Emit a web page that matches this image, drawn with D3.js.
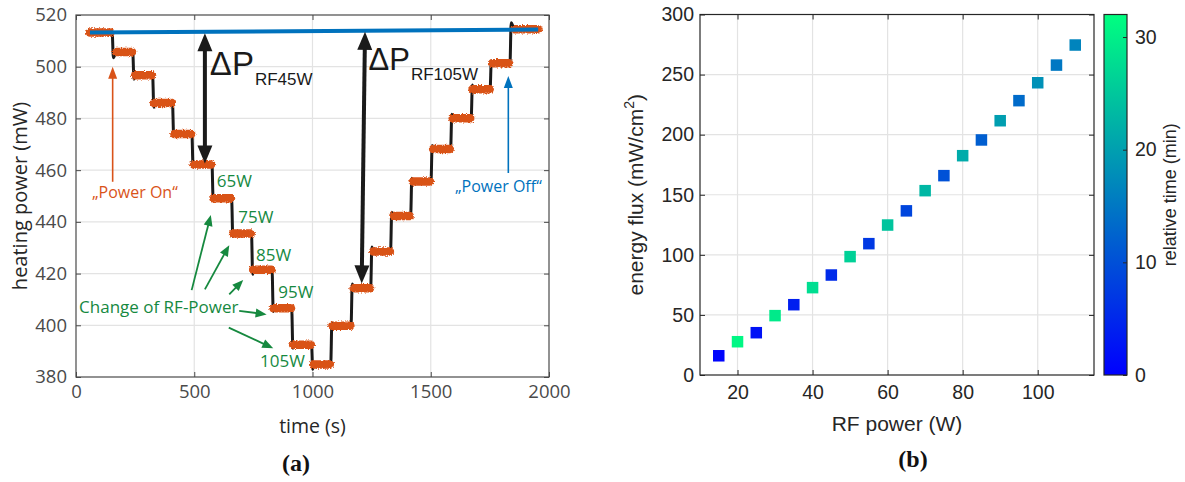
<!DOCTYPE html>
<html>
<head>
<meta charset="utf-8">
<script src="https://cdn.jsdelivr.net/npm/d3@7/dist/d3.min.js"></script>
<style>
    body { margin: 0; background: #fff; }
    svg { display: block; }
</style>
</head>
<body>
<svg id="fig" width="1185" height="482"></svg>
<script>
// (a) heating power trace: plateaus (s, mW)
let plateauStart = [59, 170, 250, 330, 416, 498, 581, 664, 749, 835, 918, 1003, 1084, 1174, 1257, 1342, 1425, 1510, 1593, 1677, 1760, 1854];
let plateauEnd = [146, 237, 321, 405, 487, 571, 655, 739, 826, 909, 993, 1073, 1160, 1243, 1327, 1411, 1497, 1580, 1667, 1749, 1831, 1955];
let plateauLevel = [513.2, 505.7, 496.7, 486.0, 474.0, 462.2, 449.1, 435.5, 421.5, 406.6, 392.5, 384.8, 399.8, 414.3, 428.5, 442.3, 455.6, 468.2, 480.1, 491.3, 501.3, 514.5];

// switching moments and the over/undershoot reached right after
let stepTime = [153, 240, 324, 408, 490, 575, 658, 742, 829, 912, 996, 1077, 1163, 1246, 1330, 1415, 1501, 1584, 1671, 1751, 1835];
let stepPeak = [503.5, 495.2, 484.3, 473.2, 461.3, 448.2, 434.3, 419.7, 405.3, 391.1, 383.0, 401.0, 416.0, 430.3, 443.7, 456.9, 469.5, 481.6, 492.9, 502.2, 517.0];

// baseline between power on and power off
let baseTime = [59, 1954];
let basePower = [513.2, 514.4];

// (b) energy flux vs rf power, colored by relative time
let rfPower = [15, 20, 25, 30, 35, 40, 45, 50, 55, 60, 65, 70, 75, 80, 85, 90, 95, 100, 105, 110];
let energyFlux = [16.0, 27.7, 35.2, 49.4, 58.5, 72.7, 83.2, 98.5, 109.3, 124.8, 136.6, 153.4, 165.9, 182.5, 195.6, 211.6, 228.3, 243.2, 257.9, 274.6];
let relTime = [0.6, 31.0, 2.2, 29.4, 3.8, 27.8, 5.4, 26.2, 7.0, 24.6, 8.6, 23.0, 10.2, 21.4, 11.8, 19.8, 13.4, 18.2, 15.0, 16.6];

let timeTicks = [0, 500, 1000, 1500, 2000];
let heatTicks = [380, 400, 420, 440, 460, 480, 500, 520];
let rfTicks = [20, 40, 60, 80, 100];
let fluxTicks = [0, 50, 100, 150, 200, 250, 300];
let cbTicks = [0, 10, 20, 30];

const ORANGE = "#d95319";
const BLUE = "#0072bd";
const GREEN = "#16893f";
const GRID = "#e3e3e3";

let svg = d3.select("#fig");

let defs = svg.append("defs");

// rough edge for the noisy plateaus
let rough = defs.append("filter").attr("id", "rough")
    .attr("x", "-10%").attr("y", "-50%").attr("width", "120%").attr("height", "200%");
rough.append("feTurbulence").attr("type", "fractalNoise").attr("baseFrequency", "0.8").attr("numOctaves", 2).attr("seed", 3).attr("result", "n");
rough.append("feDisplacementMap").attr("in", "SourceGraphic").attr("in2", "n").attr("scale", 4)
    .attr("xChannelSelector", "R").attr("yChannelSelector", "G");

function arrowHead(g, x1, y1, x2, y2, len, half, color) {
    let a = Math.atan2(y2 - y1, x2 - x1);
    let bx = x2 - len * Math.cos(a), by = y2 - len * Math.sin(a);
    let px = -Math.sin(a) * half, py = Math.cos(a) * half;
    g.append("path")
        .attr("d", "M" + x2 + "," + y2 + "L" + (bx + px) + "," + (by + py) + "L" + (bx - px) + "," + (by - py) + "Z")
        .attr("fill", color);
}

// arrow drawn in pixel space, head at the second point
function arrow(g, x1, y1, x2, y2, opt) {
    let a = Math.atan2(y2 - y1, x2 - x1);
    g.append("line")
        .attr("x1", x1).attr("y1", y1)
        .attr("x2", x2 - opt.len * 0.8 * Math.cos(a)).attr("y2", y2 - opt.len * 0.8 * Math.sin(a))
        .attr("stroke", opt.color).attr("stroke-width", opt.width);
    arrowHead(g, x1, y1, x2, y2, opt.len, opt.half, opt.color);
}

/* ---------------- (a) ---------------- */
let pa = { left: 76, right: 549, top: 15, bottom: 377 };

let x = d3.scaleLinear().domain([0, 2000]).range([pa.left, pa.right]);
let y = d3.scaleLinear().domain([380, 520]).range([pa.bottom, pa.top]);

let ga = svg.append("g").attr("font-family", "'Open Sans', sans-serif");

// grid
ga.append("g").selectAll("line").data(timeTicks.slice(1, -1)).enter().append("line")
    .attr("x1", d => x(d)).attr("x2", d => x(d)).attr("y1", pa.top).attr("y2", pa.bottom)
    .attr("stroke", GRID).attr("stroke-width", 1.2);
ga.append("g").selectAll("line").data(heatTicks.slice(1, -1)).enter().append("line")
    .attr("y1", d => y(d)).attr("y2", d => y(d)).attr("x1", pa.left).attr("x2", pa.right)
    .attr("stroke", GRID).attr("stroke-width", 1.2);

// black trace through plateaus and switching spikes
let tracePts = [];
plateauLevel.forEach((lv, k) => {
    tracePts.push([plateauStart[k], lv]);
    if (k < stepTime.length) {
        tracePts.push([stepTime[k], lv]);
        tracePts.push([stepTime[k] + 5, stepPeak[k]]);
    } else {
        tracePts.push([plateauEnd[k], lv]);
    }
});

let line = d3.line().x(d => x(d[0])).y(d => y(d[1])).curve(d3.curveMonotoneX);

ga.append("path").datum(tracePts)
    .attr("d", line)
    .attr("fill", "none").attr("stroke", "#1a1a1a").attr("stroke-width", 3)
    .attr("stroke-linejoin", "round").attr("stroke-linecap", "round");

// orange noisy plateaus: solid core plus a frayed fringe
function plateaus(g, w) {
    g.selectAll("line").data(plateauLevel).enter().append("line")
        .attr("x1", (d, i) => x(plateauStart[i])).attr("x2", (d, i) => x(plateauEnd[i]))
        .attr("y1", d => y(d)).attr("y2", d => y(d))
        .attr("stroke", ORANGE).attr("stroke-width", w).attr("stroke-linecap", "round");
}
plateaus(ga.append("g"), 6.5);
plateaus(ga.append("g").attr("filter", "url(#rough)"), 8.5);

// blue baseline
ga.append("line")
    .attr("x1", x(baseTime[0])).attr("y1", y(basePower[0]))
    .attr("x2", x(baseTime[1])).attr("y2", y(basePower[1]))
    .attr("stroke", BLUE).attr("stroke-width", 4);

// delta P double arrows
function deltaArrow(t1, p1, t2, p2) {
    let x1 = x(t1), y1 = y(p1), x2 = x(t2), y2 = y(p2);
    let a = Math.atan2(y2 - y1, x2 - x1);
    ga.append("line")
        .attr("x1", x1 + 14 * Math.cos(a)).attr("y1", y1 + 14 * Math.sin(a))
        .attr("x2", x2 - 14 * Math.cos(a)).attr("y2", y2 - 14 * Math.sin(a))
        .attr("stroke", "#1a1a1a").attr("stroke-width", 4);
    arrowHead(ga, x2, y2, x1, y1, 18, 7.5, "#1a1a1a");
    arrowHead(ga, x1, y1, x2, y2, 18, 7.5, "#1a1a1a");
}
deltaArrow(545, 512.9, 545, 462.6);
deltaArrow(1222, 513.5, 1208, 416.2);

function deltaLabel(t, p, sub, size) {
    let tx = ga.append("text").attr("x", x(t)).attr("y", y(p))
        .attr("font-family", "'Liberation Sans', Arial, sans-serif")
        .attr("fill", "#1a1a1a").attr("font-size", size);
    tx.append("tspan").text("ΔP");
    tx.append("tspan").attr("dy", 10).attr("dx", 1).attr("font-size", 17).text(sub);
}
deltaLabel(566, 496.8, "RF45W", 33);
deltaLabel(1237, 498.6, "RF105W", 31);

// power on / off
let annot = ga.append("g").attr("font-size", 16);
arrow(annot, x(155), y(455.5), x(155), y(500.0), { color: ORANGE, width: 1.6, len: 12, half: 4.5 });
annot.append("text").attr("x", x(249)).attr("y", y(449.1)).attr("text-anchor", "middle")
    .attr("fill", ORANGE).text("„Power On“");
arrow(annot, x(1828), y(458.9), x(1828), y(496.4), { color: BLUE, width: 1.6, len: 12, half: 4.5 });
annot.append("text").attr("x", x(1786)).attr("y", y(451.4)).attr("text-anchor", "middle")
    .attr("fill", BLUE).text("„Power Off“");

// rf power change labels
let gg = ga.append("g").attr("fill", GREEN).attr("font-size", 17);
gg.append("text").attr("x", x(595)).attr("y", y(453.3)).text("65W");
gg.append("text").attr("x", x(686)).attr("y", y(439.4)).text("75W");
gg.append("text").attr("x", x(761)).attr("y", y(425.0)).text("85W");
gg.append("text").attr("x", x(855)).attr("y", y(410.4)).text("95W");
gg.append("text").attr("x", x(778)).attr("y", y(383.7)).text("105W");
gg.append("text").attr("x", x(13)).attr("y", y(404.6)).text("Change of RF-Power");

let gopt = { color: GREEN, width: 1.8, len: 11, half: 4.5 };
arrow(gg, x(489), y(413.6), x(570), y(442.7), gopt);
arrow(gg, x(545), y(413.9), x(648), y(431.0), gopt);
arrow(gg, x(648), y(412.0), x(707), y(417.5), gopt);
arrow(gg, x(690), y(405.6), x(806), y(404.2), gopt);
arrow(gg, x(646), y(399.1), x(834), y(391.1), gopt);

// axes (ticks pointing inward, box on)
function styleAxis(g, color) {
    g.select(".domain").remove();
    g.selectAll("line").attr("stroke", color);
    g.selectAll("text").attr("fill", color);
}
let aColor = "#4a4a4a";
ga.append("g").attr("transform", "translate(0," + pa.bottom + ")")
    .call(d3.axisBottom(x).tickValues(timeTicks).tickFormat(d3.format("d")).tickSize(-5).tickPadding(8))
    .attr("font-size", 18.5).attr("font-family", "'Open Sans', sans-serif")
    .call(g => styleAxis(g, aColor));
ga.append("g").attr("transform", "translate(0," + pa.top + ")")
    .call(d3.axisTop(x).tickValues(timeTicks).tickSize(-5).tickFormat(""))
    .call(g => styleAxis(g, aColor));
ga.append("g").attr("transform", "translate(" + pa.left + ",0)")
    .call(d3.axisLeft(y).tickValues(heatTicks).tickSize(-5).tickPadding(9))
    .attr("font-size", 18.5).attr("font-family", "'Open Sans', sans-serif")
    .call(g => styleAxis(g, aColor));
ga.append("g").attr("transform", "translate(" + pa.right + ",0)")
    .call(d3.axisRight(y).tickValues(heatTicks).tickSize(-5).tickFormat(""))
    .call(g => styleAxis(g, aColor));
ga.append("rect").attr("x", pa.left).attr("y", pa.top)
    .attr("width", pa.right - pa.left).attr("height", pa.bottom - pa.top)
    .attr("fill", "none").attr("stroke", aColor).attr("stroke-width", 1.2);

ga.append("text").attr("x", (pa.left + pa.right) / 2).attr("y", 433)
    .attr("text-anchor", "middle").attr("font-size", 19.5).attr("fill", "#262626").text("time (s)");
ga.append("text").attr("transform", "translate(26.5," + ((pa.top + pa.bottom) / 2) + ") rotate(-90)")
    .attr("text-anchor", "middle").attr("font-size", 20).attr("fill", "#262626").text("heating power (mW)");

/* ---------------- (b) ---------------- */
let pb = { left: 700, right: 1094, top: 14.5, bottom: 375 };

let xb = d3.scaleLinear().domain([10, 115]).range([pb.left, pb.right]);
let yb = d3.scaleLinear().domain([0, 300]).range([pb.bottom, pb.top]);
let cmax = 32;
let color = d3.scaleLinear().domain([0, cmax]).range(["#0000ff", "#00ff80"]);

let gb = svg.append("g").attr("font-family", "'Liberation Sans', Arial, sans-serif");

gb.append("g").selectAll("line").data(rfTicks).enter().append("line")
    .attr("x1", d => xb(d)).attr("x2", d => xb(d)).attr("y1", pb.top).attr("y2", pb.bottom)
    .attr("stroke", GRID).attr("stroke-width", 1.2);
gb.append("g").selectAll("line").data(fluxTicks.slice(1, -1)).enter().append("line")
    .attr("y1", d => yb(d)).attr("y2", d => yb(d)).attr("x1", pb.left).attr("x2", pb.right)
    .attr("stroke", GRID).attr("stroke-width", 1.2);

let sq = 11.5;
gb.append("g").selectAll("rect").data(rfPower).enter().append("rect")
    .attr("x", d => xb(d) - sq / 2)
    .attr("y", (d, i) => yb(energyFlux[i]) - sq / 2)
    .attr("width", sq).attr("height", sq)
    .attr("fill", (d, i) => color(relTime[i]));

let bColor = "#262626";
gb.append("g").attr("transform", "translate(0," + pb.bottom + ")")
    .call(d3.axisBottom(xb).tickValues(rfTicks).tickSize(-5).tickPadding(10))
    .attr("font-size", 19.5).attr("font-family", "'Liberation Sans', Arial, sans-serif")
    .call(g => styleAxis(g, bColor));
gb.append("g").attr("transform", "translate(0," + pb.top + ")")
    .call(d3.axisTop(xb).tickValues(rfTicks).tickSize(-5).tickFormat(""))
    .call(g => styleAxis(g, bColor));
gb.append("g").attr("transform", "translate(" + pb.left + ",0)")
    .call(d3.axisLeft(yb).tickValues(fluxTicks).tickSize(-5).tickPadding(6))
    .attr("font-size", 19.5).attr("font-family", "'Liberation Sans', Arial, sans-serif")
    .call(g => styleAxis(g, bColor));
gb.append("g").attr("transform", "translate(" + pb.right + ",0)")
    .call(d3.axisRight(yb).tickValues(fluxTicks).tickSize(-5).tickFormat(""))
    .call(g => styleAxis(g, bColor));
gb.append("rect").attr("x", pb.left).attr("y", pb.top)
    .attr("width", pb.right - pb.left).attr("height", pb.bottom - pb.top)
    .attr("fill", "none").attr("stroke", bColor).attr("stroke-width", 1.2);

gb.append("text").attr("x", (pb.left + pb.right) / 2).attr("y", 431)
    .attr("text-anchor", "middle").attr("font-size", 21).attr("fill", bColor).text("RF power (W)");
let yl = gb.append("text").attr("transform", "translate(643," + ((pb.top + pb.bottom) / 2) + ") rotate(-90)")
    .attr("text-anchor", "middle").attr("font-size", 21).attr("fill", bColor);
yl.append("tspan").text("energy flux (mW/cm");
yl.append("tspan").attr("dy", -9).attr("font-size", 14).text("2");
yl.append("tspan").attr("dy", 9).text(")");

// colorbar
let cb = { left: 1104, right: 1127 };
let yc = d3.scaleLinear().domain([0, cmax]).range([pb.bottom, pb.top]);
let grad = defs.append("linearGradient").attr("id", "winter")
    .attr("x1", 0).attr("y1", 1).attr("x2", 0).attr("y2", 0);
grad.append("stop").attr("offset", 0).attr("stop-color", color(0));
grad.append("stop").attr("offset", 1).attr("stop-color", color(cmax));
gb.append("rect").attr("x", cb.left).attr("y", pb.top)
    .attr("width", cb.right - cb.left).attr("height", pb.bottom - pb.top)
    .attr("fill", "url(#winter)").attr("stroke", bColor).attr("stroke-width", 1.2);
gb.append("g").attr("transform", "translate(" + cb.right + ",0)")
    .call(d3.axisRight(yc).tickValues(cbTicks).tickSize(-4).tickPadding(8))
    .attr("font-size", 19.5).attr("font-family", "'Liberation Sans', Arial, sans-serif")
    .call(g => styleAxis(g, bColor));
gb.append("text").attr("transform", "translate(1176," + ((pb.top + pb.bottom) / 2) + ") rotate(-90)")
    .attr("text-anchor", "middle").attr("font-size", 18).attr("fill", bColor).text("relative time (min)");

// panel letters
svg.append("text").attr("x", 296).attr("y", 471).attr("text-anchor", "middle")
    .attr("font-family", "'Liberation Serif', serif").attr("font-weight", "bold").attr("font-size", 24)
    .attr("fill", "#111").text("(a)");
svg.append("text").attr("x", 913).attr("y", 467).attr("text-anchor", "middle")
    .attr("font-family", "'Liberation Serif', serif").attr("font-weight", "bold").attr("font-size", 24)
    .attr("fill", "#111").text("(b)");
</script>
</body>
</html>
